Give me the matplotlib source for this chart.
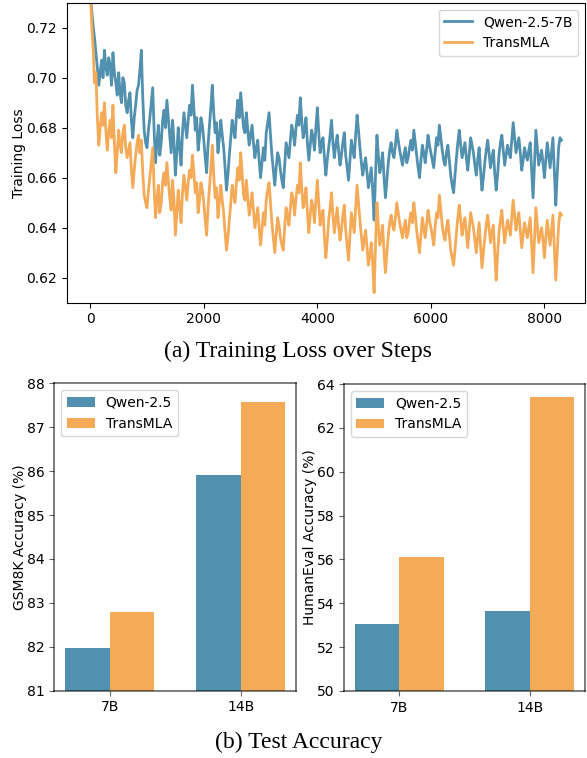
import matplotlib
matplotlib.use("Agg")
import matplotlib.pyplot as plt
import numpy as np

# ---- data ----
steps = list(range(0, 8301, 25))

qwen_loss = [
    0.735, 0.727, 0.721, 0.716, 0.710, 0.704, 0.697, 0.702, 0.707, 0.700, 0.711, 0.704, 0.701, 0.708, 0.705, 0.697, 0.710, 0.702, 0.698, 0.693,
    0.702, 0.694, 0.690, 0.700, 0.698, 0.689, 0.686, 0.691, 0.694, 0.683, 0.676, 0.684, 0.689, 0.695, 0.697, 0.703, 0.711, 0.692, 0.679, 0.674,
    0.672, 0.679, 0.684, 0.690, 0.696, 0.679, 0.666, 0.674, 0.681, 0.669, 0.674, 0.683, 0.687, 0.680, 0.691, 0.684, 0.677, 0.670, 0.683, 0.674,
    0.661, 0.670, 0.680, 0.672, 0.665, 0.678, 0.686, 0.681, 0.676, 0.683, 0.689, 0.685, 0.697, 0.688, 0.679, 0.684, 0.671, 0.676, 0.684, 0.681,
    0.675, 0.668, 0.662, 0.673, 0.681, 0.688, 0.697, 0.686, 0.678, 0.682, 0.670, 0.676, 0.683, 0.677, 0.672, 0.664, 0.655, 0.661, 0.669, 0.676,
    0.683, 0.679, 0.676, 0.685, 0.691, 0.684, 0.694, 0.687, 0.680, 0.678, 0.686, 0.679, 0.673, 0.677, 0.681, 0.674, 0.668, 0.672, 0.675, 0.667,
    0.660, 0.666, 0.672, 0.667, 0.678, 0.682, 0.686, 0.677, 0.669, 0.663, 0.657, 0.664, 0.670, 0.668, 0.663, 0.659, 0.656, 0.665, 0.674, 0.671,
    0.668, 0.675, 0.681, 0.678, 0.673, 0.680, 0.685, 0.681, 0.692, 0.683, 0.676, 0.679, 0.684, 0.674, 0.667, 0.673, 0.679, 0.676, 0.671, 0.680,
    0.688, 0.678, 0.670, 0.674, 0.676, 0.668, 0.661, 0.667, 0.672, 0.677, 0.683, 0.674, 0.668, 0.673, 0.677, 0.671, 0.665, 0.669, 0.674, 0.678,
    0.669, 0.664, 0.659, 0.667, 0.675, 0.671, 0.668, 0.677, 0.685, 0.679, 0.672, 0.666, 0.661, 0.665, 0.668, 0.662, 0.656, 0.660, 0.664, 0.655,
    0.643, 0.661, 0.677, 0.669, 0.662, 0.665, 0.670, 0.660, 0.652, 0.659, 0.666, 0.671, 0.674, 0.670, 0.668, 0.673, 0.679, 0.675, 0.671, 0.668,
    0.665, 0.669, 0.672, 0.666, 0.668, 0.672, 0.675, 0.671, 0.679, 0.674, 0.669, 0.664, 0.660, 0.667, 0.673, 0.670, 0.666, 0.671, 0.677, 0.673,
    0.670, 0.667, 0.664, 0.670, 0.676, 0.673, 0.681, 0.676, 0.671, 0.667, 0.665, 0.670, 0.673, 0.667, 0.661, 0.657, 0.654, 0.661, 0.668, 0.674,
    0.679, 0.673, 0.668, 0.671, 0.674, 0.668, 0.663, 0.669, 0.676, 0.673, 0.670, 0.665, 0.661, 0.667, 0.672, 0.663, 0.655, 0.660, 0.666, 0.671,
    0.675, 0.670, 0.664, 0.668, 0.671, 0.662, 0.655, 0.661, 0.669, 0.674, 0.677, 0.671, 0.665, 0.669, 0.673, 0.670, 0.668, 0.675, 0.682, 0.676,
    0.670, 0.673, 0.676, 0.670, 0.663, 0.667, 0.672, 0.669, 0.667, 0.671, 0.674, 0.663, 0.652, 0.666, 0.679, 0.672, 0.665, 0.668, 0.671, 0.666,
    0.660, 0.667, 0.674, 0.669, 0.664, 0.670, 0.676, 0.662, 0.649, 0.661, 0.672, 0.676, 0.675,
]

transmla_loss = [
    0.735, 0.722, 0.712, 0.698, 0.702, 0.684, 0.673, 0.680, 0.686, 0.681, 0.690, 0.679, 0.671, 0.678, 0.683, 0.676, 0.689, 0.674, 0.662, 0.670,
    0.679, 0.673, 0.670, 0.678, 0.681, 0.672, 0.668, 0.671, 0.674, 0.663, 0.656, 0.663, 0.669, 0.674, 0.677, 0.670, 0.675, 0.662, 0.653, 0.650,
    0.648, 0.655, 0.660, 0.666, 0.672, 0.656, 0.644, 0.651, 0.657, 0.646, 0.650, 0.658, 0.662, 0.657, 0.666, 0.659, 0.652, 0.647, 0.659, 0.651,
    0.637, 0.646, 0.655, 0.648, 0.642, 0.654, 0.661, 0.656, 0.651, 0.658, 0.663, 0.660, 0.669, 0.662, 0.654, 0.658, 0.646, 0.651, 0.658, 0.655,
    0.650, 0.643, 0.637, 0.648, 0.656, 0.664, 0.673, 0.661, 0.652, 0.656, 0.644, 0.650, 0.657, 0.651, 0.646, 0.638, 0.631, 0.636, 0.643, 0.650,
    0.657, 0.653, 0.650, 0.658, 0.664, 0.659, 0.670, 0.662, 0.653, 0.651, 0.659, 0.652, 0.645, 0.649, 0.654, 0.647, 0.640, 0.644, 0.648, 0.640,
    0.633, 0.639, 0.646, 0.641, 0.651, 0.655, 0.658, 0.650, 0.642, 0.636, 0.630, 0.637, 0.644, 0.641, 0.636, 0.633, 0.631, 0.640, 0.648, 0.645,
    0.641, 0.648, 0.654, 0.651, 0.645, 0.652, 0.657, 0.654, 0.666, 0.656, 0.648, 0.651, 0.656, 0.646, 0.638, 0.645, 0.651, 0.648, 0.642, 0.651,
    0.659, 0.650, 0.641, 0.645, 0.647, 0.636, 0.628, 0.635, 0.643, 0.648, 0.654, 0.645, 0.638, 0.643, 0.648, 0.641, 0.635, 0.639, 0.645, 0.649,
    0.639, 0.633, 0.627, 0.637, 0.646, 0.642, 0.638, 0.648, 0.657, 0.650, 0.643, 0.637, 0.631, 0.635, 0.639, 0.632, 0.625, 0.629, 0.634, 0.626,
    0.614, 0.633, 0.650, 0.641, 0.633, 0.636, 0.641, 0.630, 0.622, 0.630, 0.637, 0.642, 0.645, 0.641, 0.639, 0.644, 0.650, 0.646, 0.642, 0.639,
    0.636, 0.640, 0.643, 0.636, 0.638, 0.643, 0.646, 0.642, 0.650, 0.645, 0.639, 0.634, 0.630, 0.637, 0.644, 0.640, 0.636, 0.641, 0.647, 0.643,
    0.640, 0.637, 0.633, 0.640, 0.646, 0.644, 0.653, 0.647, 0.641, 0.637, 0.635, 0.640, 0.643, 0.637, 0.631, 0.628, 0.625, 0.631, 0.638, 0.644,
    0.649, 0.643, 0.637, 0.641, 0.644, 0.638, 0.632, 0.639, 0.646, 0.643, 0.640, 0.635, 0.630, 0.636, 0.642, 0.633, 0.624, 0.630, 0.636, 0.641,
    0.645, 0.640, 0.634, 0.638, 0.641, 0.630, 0.619, 0.629, 0.638, 0.643, 0.647, 0.640, 0.634, 0.639, 0.643, 0.640, 0.637, 0.644, 0.651, 0.645,
    0.639, 0.643, 0.646, 0.639, 0.632, 0.637, 0.642, 0.639, 0.636, 0.640, 0.644, 0.633, 0.622, 0.635, 0.648, 0.641, 0.634, 0.637, 0.640, 0.635,
    0.628, 0.636, 0.643, 0.638, 0.633, 0.639, 0.645, 0.632, 0.619, 0.630, 0.641, 0.646, 0.645,
]

model_sizes = ["7B", "14B"]
gsm8k_qwen = [81.97, 85.92]
gsm8k_transmla = [82.80, 87.58]
humaneval_qwen = [53.04, 53.65]
humaneval_transmla = [56.11, 63.40]

BLUE = "#5190ae"
ORANGE = "#f5aa58"

fig = plt.figure(figsize=(5.87, 7.58), dpi=100)

# (a) training loss
ax = fig.add_axes([0.1136, 0.6007, 0.883, 0.3957])
ax.plot(steps, qwen_loss, color=BLUE, lw=2.0, label="Qwen-2.5-7B")
ax.plot(steps, transmla_loss, color=ORANGE, lw=2.0, label="TransMLA")
ax.set_ylim(0.61, 0.73)
ax.set_yticks([0.62, 0.64, 0.66, 0.68, 0.70, 0.72])
ax.set_ylabel("Training Loss", fontsize=10, labelpad=0)
ax.tick_params(labelsize=10)
ax.legend(loc="upper right", fontsize=10)

# (b) test accuracy bars
x = np.arange(len(model_sizes))
w = 0.34


def bar_panel(rect, qwen, transmla, ylim, yticks, ylabel):
    a = fig.add_axes(rect)
    a.bar(x - w / 2, qwen, w, color=BLUE, label="Qwen-2.5", zorder=1)
    a.bar(x + w / 2, transmla, w, color=ORANGE, label="TransMLA", zorder=1)
    a.set_xticks(x)
    a.set_xticklabels(model_sizes)
    a.set_ylim(*ylim)
    a.set_yticks(yticks)
    a.set_ylabel(ylabel, fontsize=10, labelpad=0)
    a.tick_params(labelsize=10)
    for s in a.spines.values():
        s.set_color((0, 0, 0, 0.55))
        s.set_linewidth(1.3)
        s.set_zorder(3)
    a.tick_params(color=(0, 0, 0, 0.6))
    a.legend(loc="upper left", fontsize=10)
    return a


bar_panel([0.0925, 0.0888, 0.4118, 0.4055], gsm8k_qwen, gsm8k_transmla,
          (81, 88), range(81, 89), "GSM8K Accuracy (%)")
bar_panel([0.586, 0.0884, 0.4106, 0.405], humaneval_qwen, humaneval_transmla,
          (50, 64), range(50, 65, 2), "HumanEval Accuracy (%)")

fig.text(0.507, 0.536, "(a) Training Loss over Steps", ha="center", va="center",
         fontsize=17, family="Liberation Serif")
fig.text(0.509, 0.021, "(b) Test Accuracy", ha="center", va="center",
         fontsize=17, family="Liberation Serif")

fig.savefig("out.png", dpi=100)
